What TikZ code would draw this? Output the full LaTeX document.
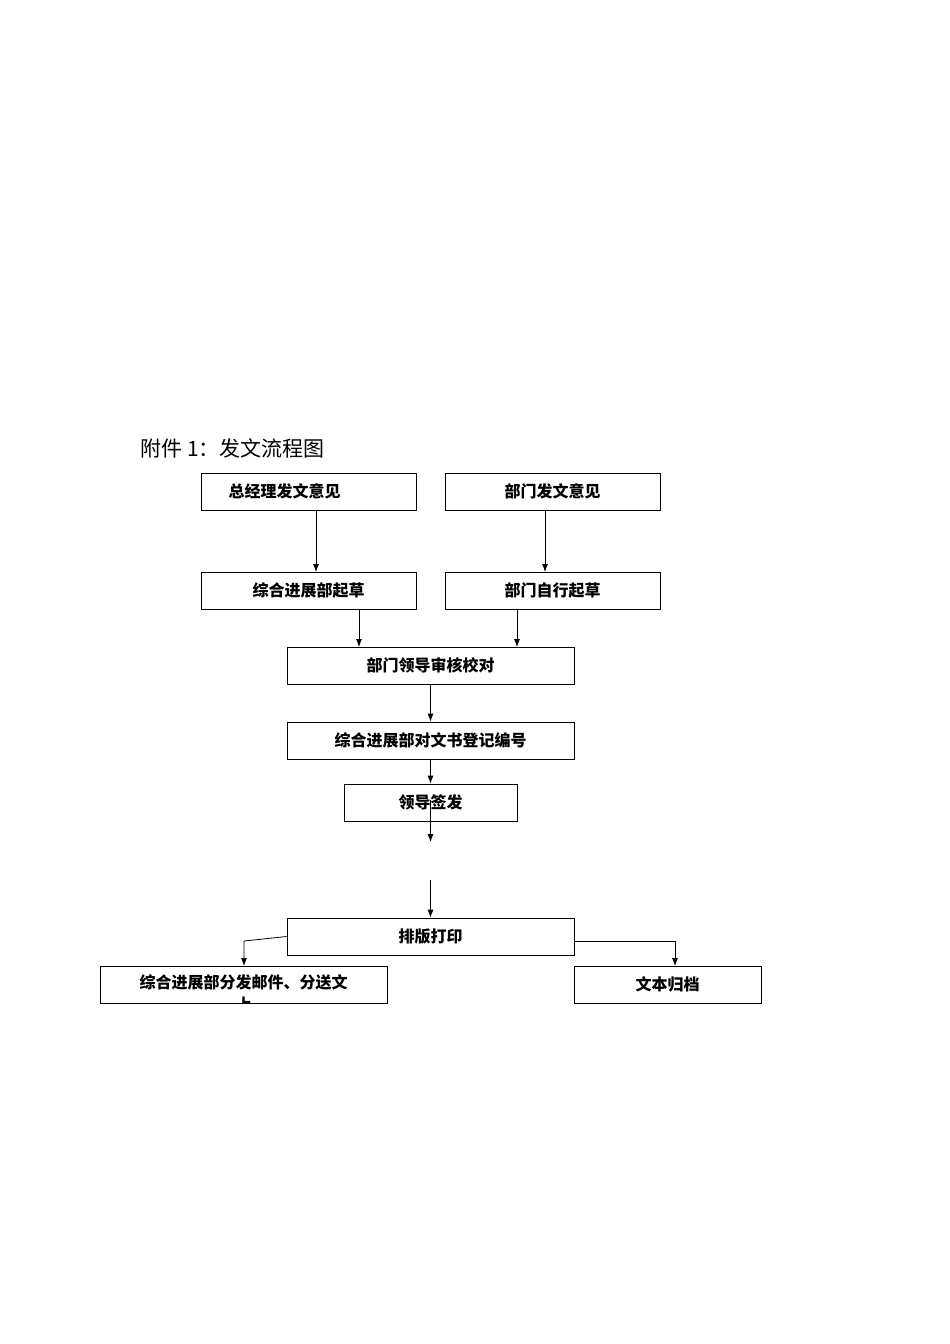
\documentclass[tikz,border=0pt]{standalone}
\usepackage{fontspec}
\newfontfamily\cjk{Noto Sans CJK SC}
\newfontfamily\cjkl{Noto Sans CJK SC Light}
\begin{document}
\begin{tikzpicture}[x=1pt,y=-1pt,
 bx/.style={draw,line width=0.8pt,minimum height=37pt,inner sep=0pt,font=\cjk\fontsize{16}{18}\selectfont\bfseries},
 ar/.style={-{Latex[length=8pt,width=6pt]},line width=0.8pt}]
\usetikzlibrary{arrows.meta}
\useasboundingbox (0,0) rectangle (950,1344);
\node[anchor=west,font=\cjk\fontsize{21}{24}\selectfont] (t) at (137,448) {附件 1：发文流程图};
\node[bx,minimum width=215pt] (a) at (308.5,491.5) {\hspace*{-48pt}总经理发文意见};
\node[bx,minimum width=215pt] (b) at (552.5,491.5) {部门发文意见};
\node[bx,minimum width=215pt] (c) at (308.5,590.5) {综合进展部起草};
\node[bx,minimum width=215pt] (d) at (552.5,590.5) {部门自行起草};
\node[bx,minimum width=287pt] (e) at (430.5,665.5) {部门领导审核校对};
\node[bx,minimum width=287pt] (f) at (430.5,740.5) {综合进展部对文书登记编号};
\node[bx,minimum width=173pt] (g) at (430.5,802.5) {领导签发};
\node[bx,minimum width=287pt] (h) at (430.5,936.5) {排版打印};
\node[bx,minimum width=287pt] (i) at (243.5,984.5) {};
\node[font=\cjk\fontsize{16}{18}\selectfont\bfseries] (it) at (243.5,982) {综合进展部分发邮件、分送文};
\begin{scope}
\clip (100,966) rectangle (387,1003);
\node[font=\cjk\fontsize{16}{18}\selectfont\bfseries] (iu) at (244,1004) {上};
\end{scope}
\node[bx,minimum width=187pt] (j) at (667.5,984.5) {文本归档};
\draw[ar] (316,510) -- (316,572);
\draw[ar] (545,510) -- (545,572);
\draw[ar] (359,609) -- (359,647);
\draw[ar] (517,609) -- (517,647);
\draw[ar] (e) -- (f);
\draw[ar] (f) -- (g);
\coordinate (g1) at (430.5,800);
\coordinate (g2) at (430.5,842);
\coordinate (h1) at (430.5,880);
\draw[ar] (g1) -- (g2);
\draw[ar] (h1) -- (h);
\draw[ar] (h.west) -- (244,941) -- (244,966);
\draw[ar] (574,941) -- (675,941) -- (675,966);
\end{tikzpicture}
\end{document}
